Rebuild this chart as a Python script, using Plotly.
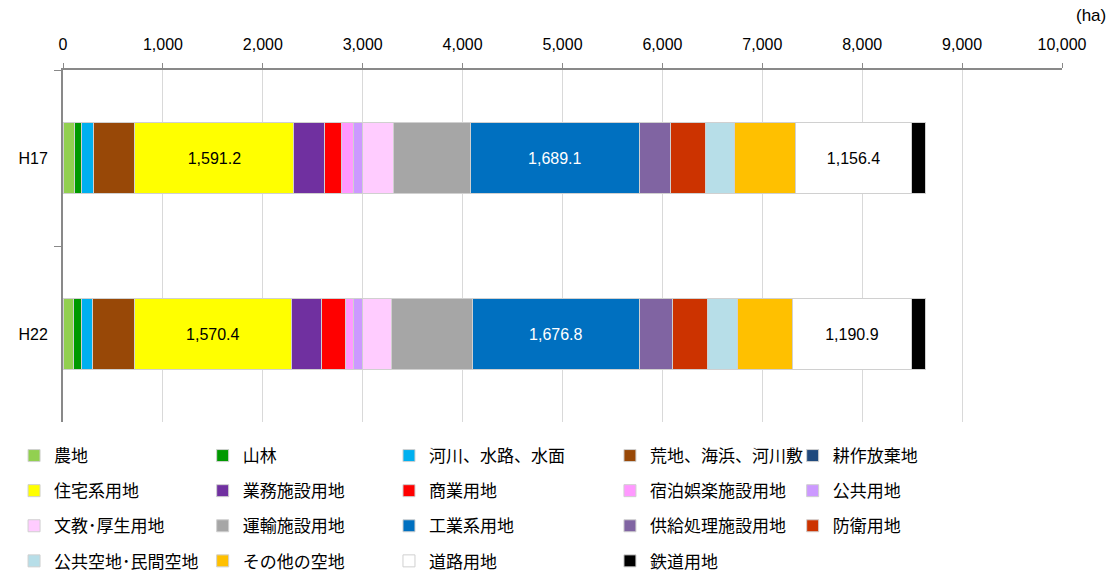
import plotly.graph_objects as go

years = ["H17", "H22"]

categories = [
    "農地", "山林", "河川、水路、水面", "荒地、海浜、河川敷", "耕作放棄地",
    "住宅系用地", "業務施設用地", "商業用地", "宿泊娯楽施設用地", "公共用地",
    "文教･厚生用地", "運輸施設用地", "工業系用地", "供給処理施設用地", "防衛用地",
    "公共空地･民間空地", "その他の空地", "道路用地", "鉄道用地",
]

h17 = [115, 66, 127, 412, 0, 1591.2, 304, 177, 112, 98,
       305, 771, 1689.1, 315, 354, 290, 609, 1156.4, 139]
h22 = [103, 80, 113, 418, 0, 1570.4, 300, 241, 81, 93,
       291, 804, 1676.8, 327, 351, 305, 547, 1190.9, 139]

colors = [
    "#92D050", "#009900", "#00B0F0", "#984807", "#1F497D",
    "#FFFF00", "#7030A0", "#FF0000", "#FF99FF", "#CC99FF",
    "#FFCCFF", "#A6A6A6", "#0070C0", "#8064A2", "#CC3300",
    "#B7DEE8", "#FFC000", "#FFFFFF", "#000000",
]

# segments whose values are printed inside the bar, with their text colour
labelled = {"住宅系用地": "#000000", "工業系用地": "#FFFFFF", "道路用地": "#000000"}

FONT = "Arial, 'Liberation Sans', 'Noto Sans CJK JP', sans-serif"
AXIS_GREY = "#898989"

# legend laid out as five columns, filled row by row
N_COLS = 5
col_x = [-0.049, 0.1398, 0.3263, 0.5475, 0.7304]
legend_ids = ["legend"] + [f"legend{i}" for i in range(2, N_COLS + 1)]

fig = go.Figure()
for i, (name, a, b, c) in enumerate(zip(categories, h17, h22, colors)):
    vals = [a, b]
    kw = {}
    if name in labelled:
        kw = dict(
            text=[f"{v:,.1f}" for v in vals],
            textposition="inside",
            insidetextanchor="middle",
            textfont=dict(color=labelled[name], size=16, family=FONT),
            textangle=0,
        )
    fig.add_trace(go.Bar(
        name=name, x=vals, y=years, orientation="h",
        marker=dict(color=c, line=dict(color="#D0D0D0", width=1)),
        legend=legend_ids[i % N_COLS], legendgroup=name,
        hoverinfo="x+name",
        **kw,
    ))

legend_style = dict(
    orientation="v", y=-0.0455, xanchor="left", yanchor="top",
    traceorder="grouped", tracegroupgap=10,
    font=dict(size=17), itemclick=False, bgcolor="rgba(0,0,0,0)",
)
legends = {lid: dict(legend_style, x=x) for lid, x in zip(legend_ids, col_x)}

fig.update_layout(
    width=1116, height=574,
    barmode="stack", bargap=0.6,
    plot_bgcolor="white", paper_bgcolor="white",
    margin=dict(l=63, r=54, t=70, b=152, autoexpand=False),
    font=dict(family=FONT, size=16, color="#000000"),
    uniformtext=dict(mode="show", minsize=10),
    xaxis=dict(
        side="top", range=[0, 10000], dtick=1000,
        tickformat=",d", showgrid=True, gridcolor="#D9D9D9", gridwidth=1,
        zeroline=False, showline=True, linecolor=AXIS_GREY, linewidth=2,
        ticks="outside", ticklen=5, tickcolor=AXIS_GREY, tickwidth=1,
        tickfont=dict(size=16), ticklabelstandoff=7,
    ),
    yaxis=dict(
        autorange="reversed", showline=True, linecolor=AXIS_GREY, linewidth=2,
        ticks="outside", tickson="boundaries", ticklen=7, tickcolor=AXIS_GREY,
        tickfont=dict(size=16), ticklabelstandoff=10, showgrid=False,
    ),
    annotations=[dict(
        text="(ha)", xref="paper", yref="paper", x=1.046, y=1.156,
        xanchor="right", yanchor="middle", showarrow=False, font=dict(size=17),
    )],
    **legends,
)

fig.write_html("out.html")
